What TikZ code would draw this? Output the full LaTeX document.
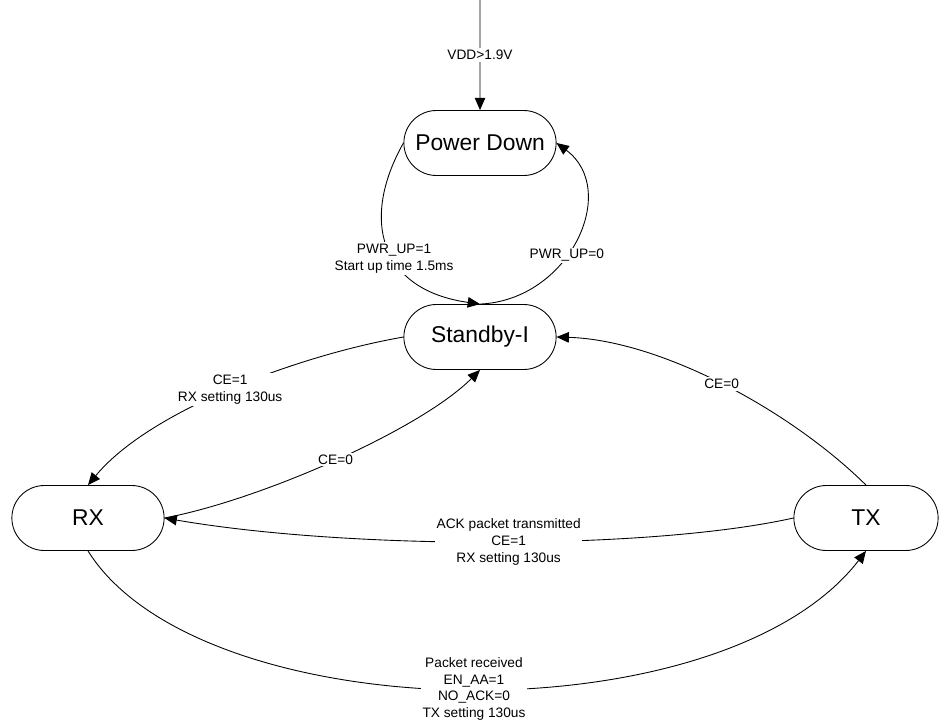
\documentclass[tikz,border=0pt]{standalone}
\usepackage{fontspec}
\setmainfont{Liberation Sans}
\usetikzlibrary{shapes.misc,arrows.meta}

\tikzset{
  statebox/.style={draw, rounded rectangle, minimum width=3.28cm, minimum height=1.3cm, line width=0.5pt, font=\fontsize{13}{15}\selectfont},
  cond/.style={fill=white, align=center, inner sep=1pt, font=\fontsize{7.8}{9.6}\selectfont},
  trans/.style={-{Triangle[length=7pt,width=6pt]}, line width=0.5pt}
}

\begin{document}
\begin{tikzpicture}[x=0.02cm, y=-0.02cm]
\useasboundingbox (0,0) rectangle (942,720);

% States
\node[statebox] (pd) at (480,143) {Power Down};
\node[statebox] (sb) at (480,337) {Standby-I};
\node[statebox] (rx) at (88,518) {RX};
\node[statebox, minimum width=3.12cm] (tx) at (866,518) {TX};

% Power supply
\coordinate (vdd) at (480,0);
\draw[trans] (vdd) -- node[cond] {VDD>1.9V} (pd);

% Power Down <-> Standby-I
\draw[trans] (pd.west) .. controls (360,220) and (380,290) .. node[cond, pos=0.57] {PWR\_UP=1\\Start up time 1.5ms} (sb.north);
\draw[trans] (sb.north) .. controls (570,300) and (620,190) .. node[cond, pos=0.42] {PWR\_UP=0} (pd.east);

% Standby-I <-> RX
\draw[trans] (sb.west) .. controls (300,355) and (150,410) .. node[cond] {CE=1\\RX setting 130us} (rx.north);
\draw[trans] (rx.east) .. controls (260,500) and (420,430) .. node[cond] {CE=0} (sb.south);

% TX -> Standby-I
\draw[trans] (tx.north) .. controls (790,410) and (660,340) .. node[cond] {CE=0} (sb.east);

% RX <-> TX
\draw[trans] (tx.west) .. controls (650,550) and (350,550) .. node[cond, pos=0.48] {ACK packet transmitted\\CE=1\\RX setting 130us} (rx.east);
\draw[trans] (rx.south) .. controls (200,730) and (720,740) .. node[cond, pos=0.51] {Packet received\\EN\_AA=1\\NO\_ACK=0\\TX setting 130us} (tx.south);
\end{tikzpicture}
\end{document}
